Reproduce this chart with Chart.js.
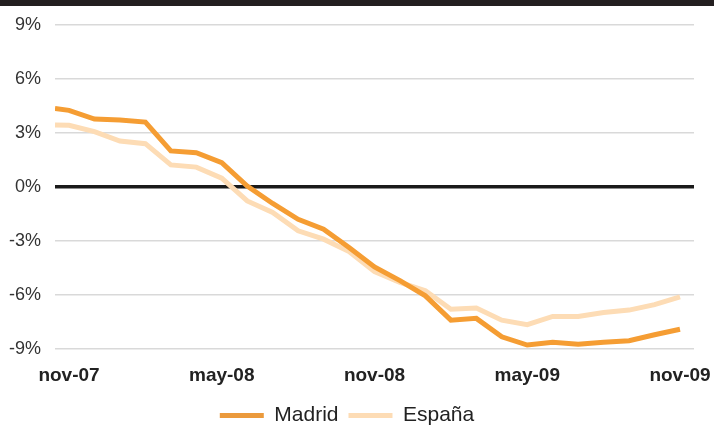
<!DOCTYPE html>
<html>
<head>
<meta charset="utf-8">
<script src="https://cdn.jsdelivr.net/npm/chart.js@4/dist/chart.umd.min.js"></script>
<style>
    html, body { margin: 0; padding: 0; background: #ffffff; }
    #wrap { width: 714px; height: 425px; position: relative; }
</style>
</head>
<body>
<div id="wrap"><canvas id="chart"></canvas></div>
<script>
// Months counted from nov-07 (0) to nov-09 (24); first value sits at the left edge
const months = [-0.55, 0, 1, 2, 3, 4, 5, 6, 7, 8, 9, 10, 11, 12, 13, 14, 15, 16, 17, 18, 19, 20, 21, 22, 23, 24];

const madrid = [4.36, 4.25, 3.77, 3.72, 3.6, 2.0, 1.9, 1.35, 0.05, -0.92, -1.8, -2.35, -3.37, -4.44, -5.2, -6.05,
    -7.4, -7.3, -8.32, -8.78, -8.63, -8.73, -8.63, -8.54, -8.21, -7.9];

const espana = [3.44, 3.42, 3.07, 2.55, 2.4, 1.22, 1.1, 0.48, -0.78, -1.42, -2.44, -2.9, -3.59, -4.7, -5.3, -5.77,
    -6.79, -6.73, -7.4, -7.65, -7.19, -7.19, -6.97, -6.84, -6.54, -6.1];

const xTickValues = [0, 6, 12, 18, 24];
const xTickLabels = ["nov-07", "may-08", "nov-08", "may-09", "nov-09"];

const seriesNames = ["Madrid", "España"];

const FONT = "'Liberation Sans', Arial, sans-serif";

// dark strip along the top edge
const headerBar = {
    id: "headerBar",
    beforeDraw(chart) {
        const ctx = chart.ctx;
        ctx.save();
        ctx.fillStyle = "#231f20";
        ctx.fillRect(0, 0, chart.width, 6);
        ctx.restore();
    }
};

new Chart(document.getElementById("chart"), {
    type: "line",
    data: {
        datasets: [{
            label: seriesNames[0],
            data: months.map((m, i) => ({ x: m, y: madrid[i] })),
            borderColor: "#f59d33",
            backgroundColor: "#eb9a3c",
            borderWidth: 5,
            pointRadius: 0,
            tension: 0
        }, {
            label: seriesNames[1],
            data: months.map((m, i) => ({ x: m, y: espana[i] })),
            borderColor: "#fddcb5",
            backgroundColor: "#fddcb5",
            borderWidth: 5,
            pointRadius: 0,
            tension: 0
        }]
    },
    options: {
        responsive: true,
        maintainAspectRatio: false,
        animation: false,
        layout: {
            padding: { top: 24, right: 20, left: 0, bottom: -11 }
        },
        plugins: {
            legend: {
                position: "bottom",
                labels: {
                    boxWidth: 44,
                    boxHeight: 5,
                    padding: 10,
                    color: "#222",
                    font: { family: FONT, size: 21 },
                    // plain filled sample, no outline
                    generateLabels: (chart) =>
                        Chart.defaults.plugins.legend.labels.generateLabels(chart)
                            .map(item => ({ ...item, lineWidth: 0 }))
                }
            },
            tooltip: { enabled: false }
        },
        scales: {
            x: {
                type: "linear",
                min: -0.55,
                max: 24.55,
                afterBuildTicks: (scale) => {
                    scale.ticks = xTickValues.map(v => ({ value: v }));
                },
                afterFit: (scale) => {
                    scale.height = 46;
                    scale.paddingLeft = 0;
                    scale.paddingRight = 0;
                },
                grid: { display: false },
                border: { display: false },
                ticks: {
                    padding: 7,
                    maxRotation: 0,
                    autoSkip: false,
                    color: "#222",
                    font: { family: FONT, size: 19, weight: "bold" },
                    callback: (value) => xTickLabels[xTickValues.indexOf(value)]
                }
            },
            y: {
                min: -9,
                max: 9,
                afterFit: (scale) => { scale.width = 55; },
                grid: {
                    drawTicks: false,
                    color: (c) => c.tick && c.tick.value === 0 ? "#1a1a1a" : "#d9d9d9",
                    lineWidth: (c) => c.tick && c.tick.value === 0 ? 3.5 : 1.5
                },
                border: { display: false },
                ticks: {
                    stepSize: 3,
                    padding: 14,
                    color: "#333",
                    font: { family: FONT, size: 18 },
                    callback: (value) => value + "%"
                }
            }
        }
    },
    plugins: [headerBar]
});
</script>
</body>
</html>
